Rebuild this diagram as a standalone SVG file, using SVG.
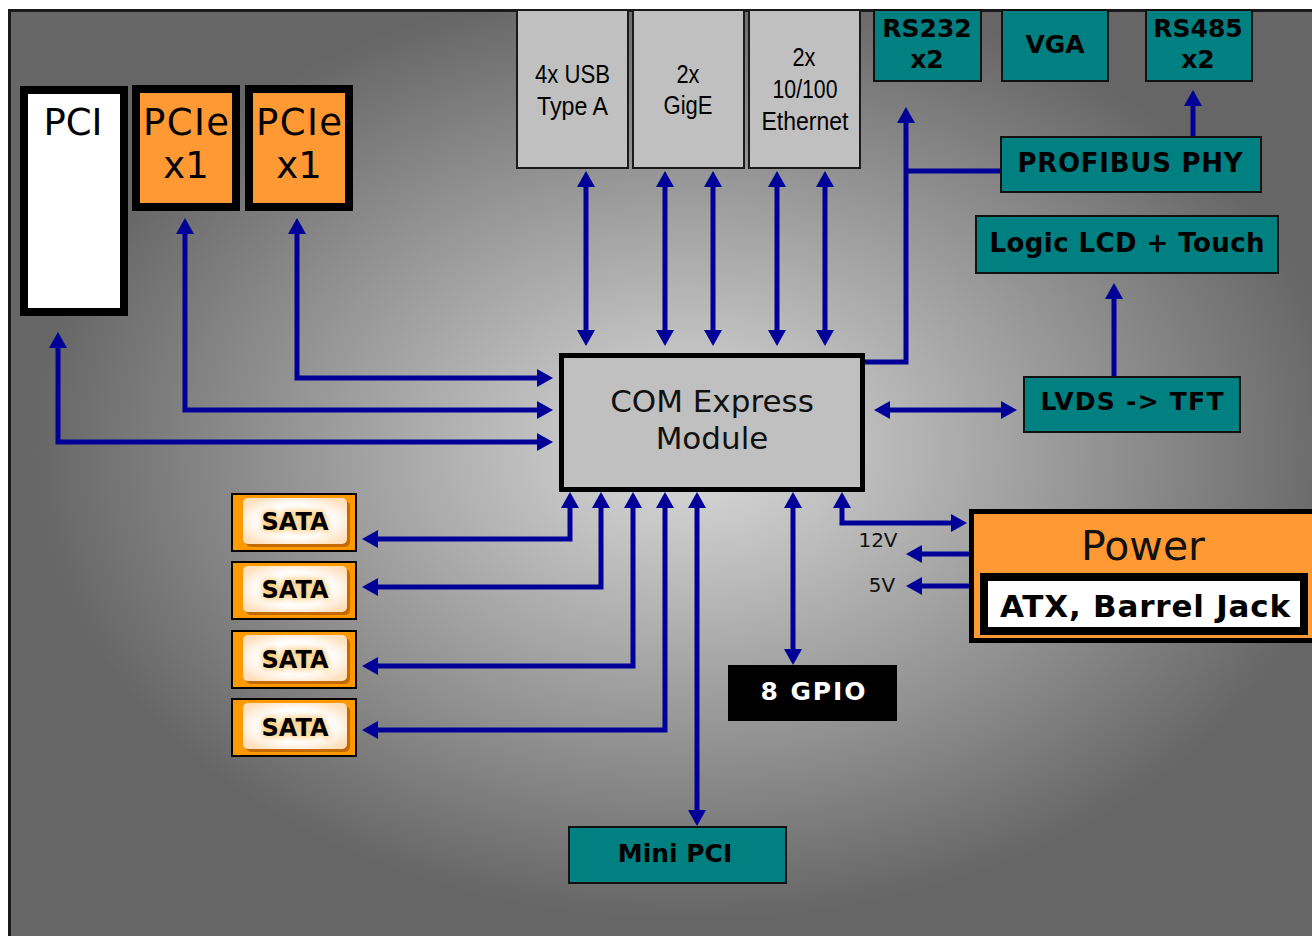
<svg xmlns="http://www.w3.org/2000/svg" width="1312" height="936" viewBox="0 0 1312 936">
<defs>
  <radialGradient id="bg" gradientUnits="userSpaceOnUse" cx="0" cy="0" r="1" gradientTransform="translate(690,450) scale(660,470)">
    <stop offset="0" stop-color="#dcdcdc"/>
    <stop offset="1" stop-color="#666666"/>
  </radialGradient>
  <radialGradient id="sataIn" cx="0.5" cy="0.5" r="0.6">
    <stop offset="0.6" stop-color="#ffffff"/>
    <stop offset="1" stop-color="#ffe0bd"/>
  </radialGradient>
  <filter id="glow" x="-20%" y="-40%" width="140%" height="180%">
    <feGaussianBlur stdDeviation="3"/>
  </filter>
  <marker id="ah" viewBox="0 0 16 18" refX="6" refY="9" markerWidth="16" markerHeight="18" markerUnits="userSpaceOnUse" orient="auto-start-reverse">
    <path d="M0,0 L16,9 L0,18 z" fill="#000099"/>
  </marker>
  <style>
    .bus { fill: none; stroke: #000099; stroke-width: 5; }
    .both { marker-start: url(#ah); marker-end: url(#ah); }
    .end { marker-end: url(#ah); }
    .teal { fill: #008080; stroke: #111; stroke-width: 2; }
    .tl { font-family: "DejaVu Sans", Verdana, sans-serif; font-weight: bold; font-size: 25px; fill: #000; text-anchor: middle; }
    .slot { font-family: "DejaVu Sans", Verdana, sans-serif; font-size: 37px; fill: #000; text-anchor: middle; }
    .conn { fill: #c0c0c0; stroke: #1a1a1a; stroke-width: 2; }
    .nar { font-family: "Liberation Sans", Arial, sans-serif; font-size: 26px; fill: #000; text-anchor: middle; }
    .sata { fill: #ff9900; stroke: #000; stroke-width: 2; }
    .glow { font-family: "DejaVu Sans", Verdana, sans-serif; font-weight: bold; font-size: 24px; fill: #ff9900; stroke: #ff9900; stroke-width: 3; text-anchor: middle; filter: url(#glow); opacity: 0.55; }
    .st { font-family: "DejaVu Sans", Verdana, sans-serif; font-weight: bold; font-size: 24px; fill: #000; text-anchor: middle; }
    .vl { font-family: "DejaVu Sans", Verdana, sans-serif; font-size: 20px; fill: #111; text-anchor: middle; }
  </style>
</defs>

<rect x="0" y="0" width="1312" height="936" fill="#ffffff"/>
<rect id="board" x="9.5" y="10.5" width="1320" height="940" fill="url(#bg)" stroke="#1a1a1a" stroke-width="3"/>

<g id="connectors">
  <path class="bus both" d="M58,342 V442 H543"/>
  <path class="bus both" d="M185,228 V410 H543"/>
  <path class="bus both" d="M297,228 V378 H543"/>
  <path class="bus both" d="M586,181 V336"/>
  <path class="bus both" d="M665,181 V336"/>
  <path class="bus both" d="M713,181 V336"/>
  <path class="bus both" d="M777,181 V336"/>
  <path class="bus both" d="M825,181 V336"/>
  <path class="bus end" d="M865,362 H906 V117"/>
  <path class="bus" d="M906,171 H1000"/>
  <path class="bus end" d="M1193,136 V100"/>
  <path class="bus end" d="M1114,376 V293"/>
  <path class="bus both" d="M884,410 H1007"/>
  <path class="bus both" d="M570,502 V539 H372"/>
  <path class="bus both" d="M601,502 V587 H372"/>
  <path class="bus both" d="M633,502 V666 H372"/>
  <path class="bus both" d="M665,502 V730 H372"/>
  <path class="bus both" d="M697,502 V816"/>
  <path class="bus both" d="M793,502 V655"/>
  <path class="bus both" d="M842,502 V523 H957"/>
  <path class="bus end" d="M970,554 H916"/>
  <path class="bus end" d="M970,586 H916"/>
</g>

<g id="pci">
  <rect x="24" y="90" width="100" height="222" fill="#ffffff" stroke="#000" stroke-width="8"/>
  <text class="slot" x="73" y="135">PCI</text>
</g>
<g id="pcie1">
  <rect x="136" y="89" width="100" height="118" fill="#ff9933" stroke="#000" stroke-width="8"/>
  <text class="slot" x="186" y="135" textLength="86">PCIe</text>
  <text class="slot" x="186" y="178">x1</text>
</g>
<g id="pcie2">
  <rect x="249" y="89" width="100" height="118" fill="#ff9933" stroke="#000" stroke-width="8"/>
  <text class="slot" x="299" y="135" textLength="86">PCIe</text>
  <text class="slot" x="299" y="178">x1</text>
</g>

<g id="usb">
  <rect class="conn" x="517" y="10" width="111" height="158"/>
  <text class="nar" x="572.5" y="83" textLength="75" lengthAdjust="spacingAndGlyphs">4x USB</text>
  <text class="nar" x="572.5" y="115" textLength="71" lengthAdjust="spacingAndGlyphs">Type A</text>
</g>
<g id="gige">
  <rect class="conn" x="633" y="10" width="111" height="158"/>
  <text class="nar" x="688" y="83" textLength="23" lengthAdjust="spacingAndGlyphs">2x</text>
  <text class="nar" x="688" y="114" textLength="49" lengthAdjust="spacingAndGlyphs">GigE</text>
</g>
<g id="ethernet">
  <rect class="conn" x="749" y="10" width="111" height="158"/>
  <text class="nar" x="804" y="66" textLength="23" lengthAdjust="spacingAndGlyphs">2x</text>
  <text class="nar" x="805" y="98" textLength="65" lengthAdjust="spacingAndGlyphs">10/100</text>
  <text class="nar" x="805" y="130" textLength="87" lengthAdjust="spacingAndGlyphs">Ethernet</text>
</g>

<g id="rs232">
  <rect class="teal" x="874" y="10" width="107" height="71"/>
  <text class="tl" x="927" y="37">RS232</text>
  <text class="tl" x="927" y="68">x2</text>
</g>
<g id="vga">
  <rect class="teal" x="1002" y="10" width="106" height="71"/>
  <text class="tl" x="1055" y="53">VGA</text>
</g>
<g id="rs485">
  <rect class="teal" x="1146" y="10" width="106" height="71"/>
  <text class="tl" x="1198" y="37">RS485</text>
  <text class="tl" x="1198" y="68">x2</text>
</g>
<g id="profibus">
  <rect class="teal" x="1001" y="137" width="260" height="55"/>
  <text class="tl" x="1130" y="172" style="font-size:26px" textLength="225">PROFIBUS PHY</text>
</g>
<g id="lcd">
  <rect class="teal" x="976" y="216" width="302" height="57"/>
  <text class="tl" x="1127" y="252" style="font-size:26px" textLength="275">Logic LCD + Touch</text>
</g>
<g id="lvds">
  <rect class="teal" x="1024" y="377" width="216" height="55"/>
  <text class="tl" x="1132" y="410" textLength="183">LVDS -&gt; TFT</text>
</g>

<g id="com">
  <rect x="561.5" y="355.5" width="301" height="134" fill="#c0c0c0" stroke="#000" stroke-width="5"/>
  <text x="712" y="412" font-family="'DejaVu Sans', Verdana, sans-serif" font-size="31" fill="#111" text-anchor="middle">COM Express</text>
  <text x="712" y="449" font-family="'DejaVu Sans', Verdana, sans-serif" font-size="31" fill="#111" text-anchor="middle">Module</text>
</g>

<g id="sata1">
  <rect class="sata" x="232" y="494" width="124" height="57"/>
  <rect x="246" y="501" width="104" height="46" rx="5" fill="#c46a00"/>
  <rect x="243" y="498" width="104" height="46" rx="5" fill="url(#sataIn)"/>
  <text class="glow" x="295" y="530">SATA</text>
  <text class="st" x="295" y="530">SATA</text>
</g>
<g id="sata2">
  <rect class="sata" x="232" y="562" width="124" height="57"/>
  <rect x="246" y="569" width="104" height="46" rx="5" fill="#c46a00"/>
  <rect x="243" y="566" width="104" height="46" rx="5" fill="url(#sataIn)"/>
  <text class="glow" x="295" y="598">SATA</text>
  <text class="st" x="295" y="598">SATA</text>
</g>
<g id="sata3">
  <rect class="sata" x="232" y="631" width="124" height="57"/>
  <rect x="246" y="638" width="104" height="46" rx="5" fill="#c46a00"/>
  <rect x="243" y="635" width="104" height="46" rx="5" fill="url(#sataIn)"/>
  <text class="glow" x="295" y="668">SATA</text>
  <text class="st" x="295" y="668">SATA</text>
</g>
<g id="sata4">
  <rect class="sata" x="232" y="699" width="124" height="57"/>
  <rect x="246" y="706" width="104" height="46" rx="5" fill="#c46a00"/>
  <rect x="243" y="703" width="104" height="46" rx="5" fill="url(#sataIn)"/>
  <text class="glow" x="295" y="736">SATA</text>
  <text class="st" x="295" y="736">SATA</text>
</g>

<g id="gpio">
  <rect x="728" y="665" width="169" height="56" fill="#000"/>
  <text class="tl" x="813" y="700" style="fill:#fff" textLength="105">8 GPIO</text>
</g>
<g id="minipci">
  <rect class="teal" x="569" y="827" width="217" height="56"/>
  <text class="tl" x="675" y="862">Mini PCI</text>
</g>

<g id="power">
  <rect x="971.5" y="511.5" width="360" height="129" fill="#ff9933" stroke="#000" stroke-width="5"/>
  <text x="1143" y="560" font-family="'DejaVu Sans', Verdana, sans-serif" font-size="41" fill="#111" text-anchor="middle">Power</text>
  <rect x="984" y="577" width="320" height="54" fill="#fff" stroke="#000" stroke-width="8"/>
  <text class="tl" x="1145" y="617" style="font-size:31px" textLength="290">ATX, Barrel Jack</text>
</g>

<g id="labels">
  <text class="vl" x="878" y="547">12V</text>
  <text class="vl" x="882" y="592">5V</text>
</g>
</svg>
